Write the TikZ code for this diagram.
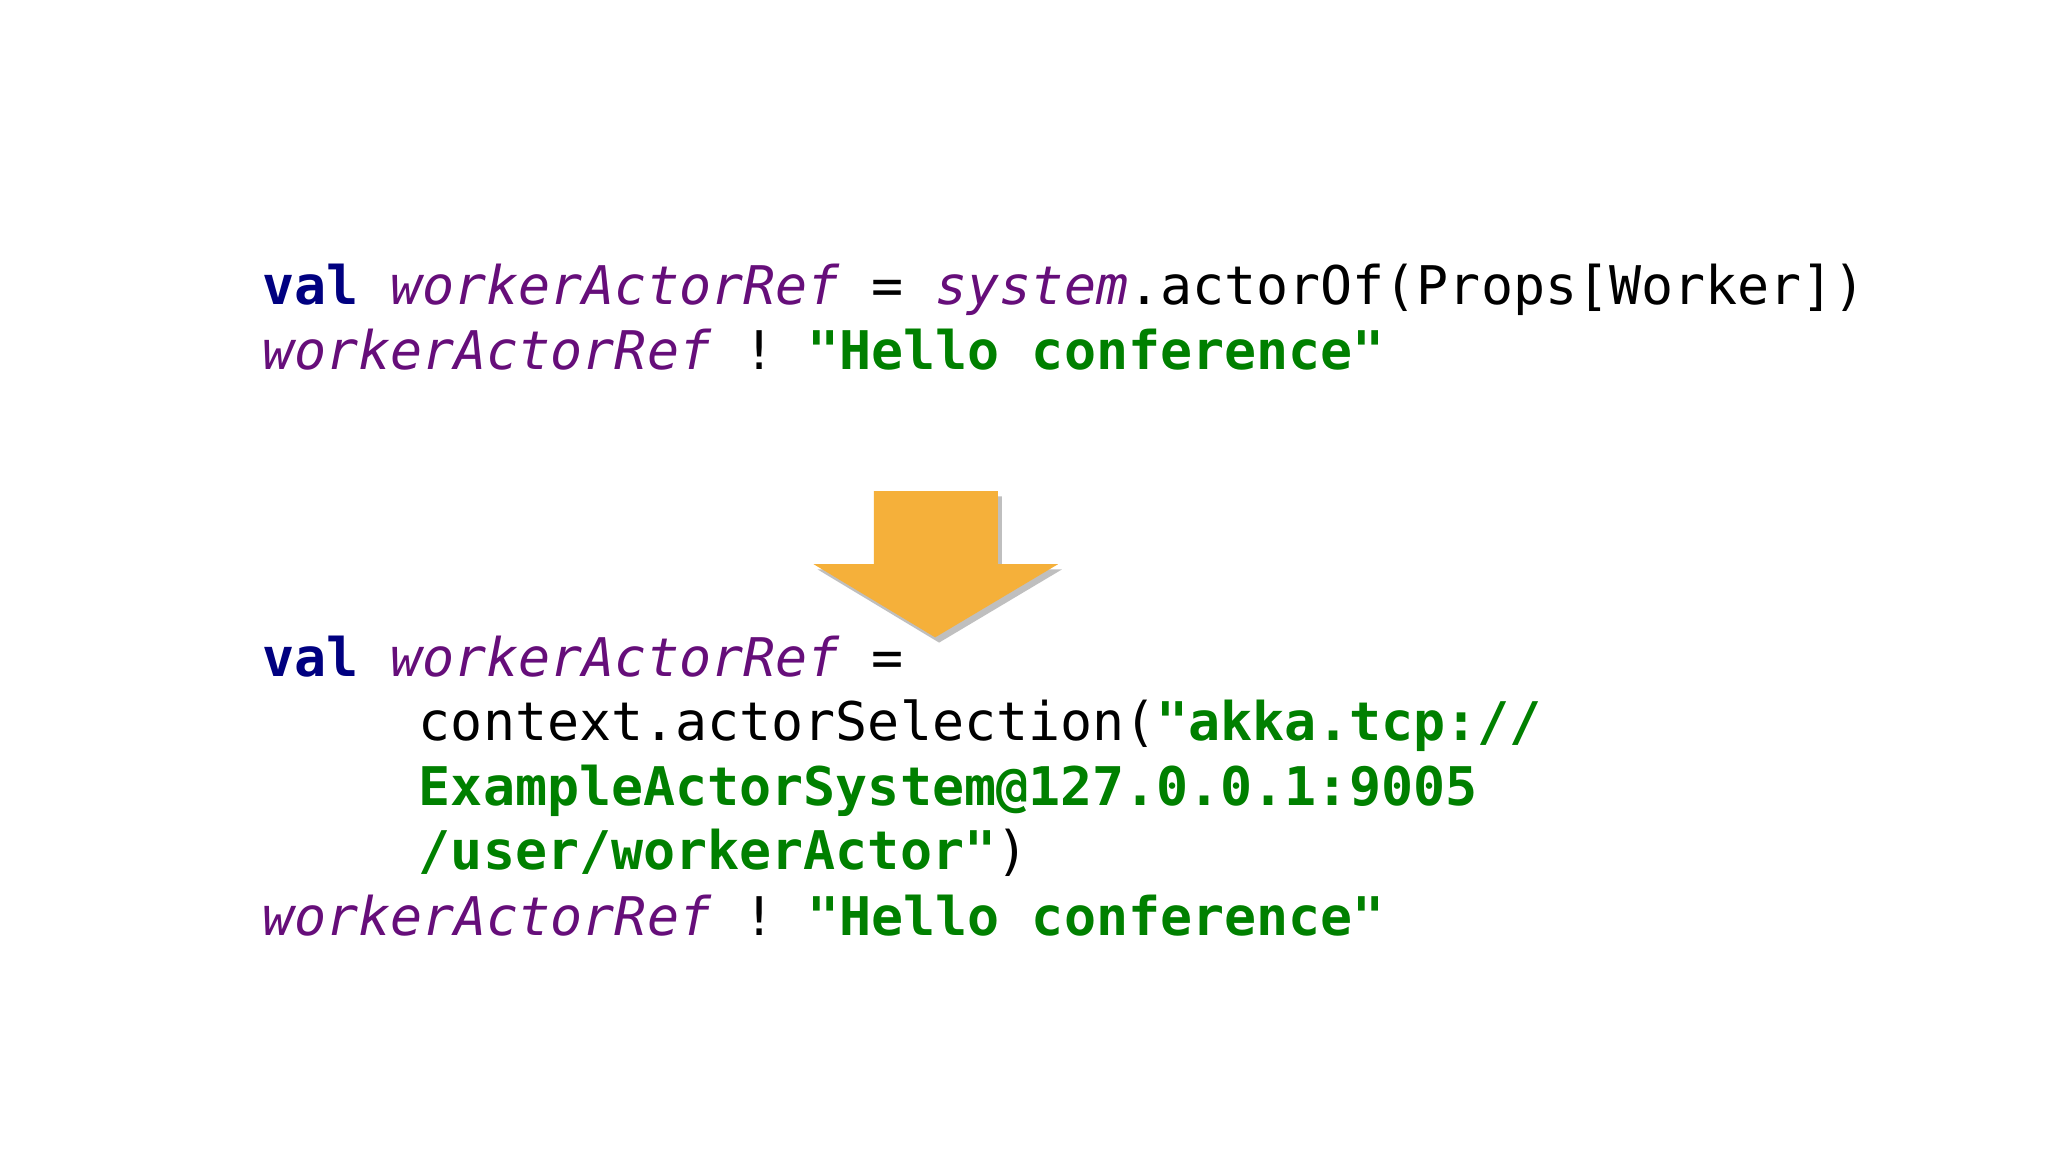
\documentclass[tikz,border=0pt]{standalone}
\usepackage{fontspec}
\setmonofont{DejaVu Sans Mono}
\definecolor{kw}{HTML}{000080}
\definecolor{it}{HTML}{660E7A}
\definecolor{st}{HTML}{008000}
\definecolor{arr}{HTML}{F5B03A}
\newcommand{\KW}[1]{\textcolor{kw}{\bfseries #1}}
\newcommand{\IT}[1]{\textcolor{it}{\itshape #1}}
\newcommand{\ST}[1]{\textcolor{st}{\bfseries #1}}
\begin{document}
\begin{tikzpicture}[x=0.01cm,y=-0.01cm,
  code/.style={anchor=base west,inner sep=0pt,font=\ttfamily\fontsize{11.6}{14}\selectfont}]
\useasboundingbox[fill=white] (0,0) rectangle (1568,882);
\node[code] (l1) at (200,233) {\KW{val} \IT{workerActorRef} = \IT{system}.actorOf(Props[Worker])};
\node[code] (l2) at (200,283) {\IT{workerActorRef} ! \ST{"Hello conference"}};
\fill[black!25] (672,380) -- (767,380) -- (767,436) -- (813,436) -- (719,492) -- (626,436) -- (672,436) -- cycle;
\fill[arr] (669,376) -- (764,376) -- (764,432) -- (810,432) -- (716,488) -- (623,432) -- (669,432) -- cycle;
\node[code] (l3) at (200,518) {\KW{val} \IT{workerActorRef} =};
\node[code] (l4) at (320,567) {context.actorSelection(\ST{"akka.tcp://}};
\node[code] (l5) at (320,617) {\ST{ExampleActorSystem@127.0.0.1:9005}};
\node[code] (l6) at (320,666) {\ST{/user/workerActor"})};
\node[code] (l7) at (200,716) {\IT{workerActorRef} ! \ST{"Hello conference"}};
\end{tikzpicture}
\end{document}
